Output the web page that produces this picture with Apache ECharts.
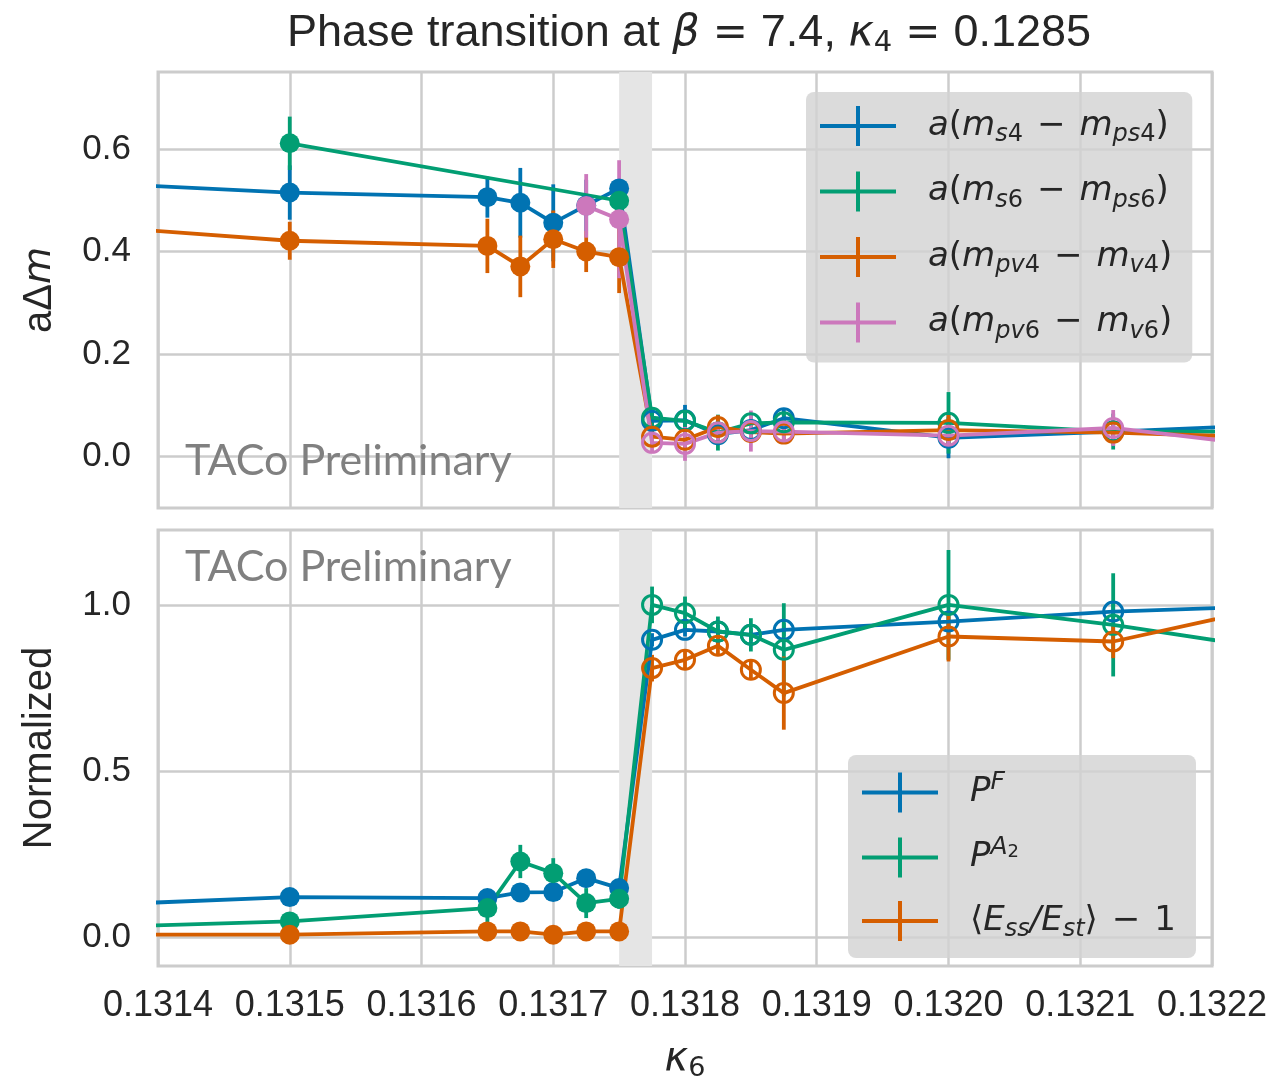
<!DOCTYPE html>
<html>
<head>
<meta charset="utf-8">
<script src="https://cdn.jsdelivr.net/npm/echarts@6/dist/echarts.min.js"></script>
<style>
  html, body { margin: 0; padding: 0; background: #fff; }
  #chart { width: 1276px; height: 1077px; }
</style>
</head>
<body>
<div id="chart"></div>
<script>
// kappa_6 values (points outside 0.1314..0.1322 only feed the clipped line ends)
var kappaAll   = [0.1313, 0.1315, 0.13165, 0.131675, 0.1317, 0.131725, 0.13175, 0.131775, 0.1318, 0.131825, 0.13185, 0.131875, 0.132, 0.132125, 0.13225];
var kappaGreen = [0.1315, 0.13175, 0.131775, 0.1318, 0.131825, 0.13185, 0.131875, 0.132, 0.132125, 0.13225];
var kappaPink  = [0.131725, 0.13175, 0.131775, 0.1318, 0.131825, 0.13185, 0.131875, 0.132, 0.132125, 0.13225];
var lastFilled = 0.13175;   // filled markers up to here, open markers after
var band = [0.13175, 0.131775];

// top panel: a*Delta m
var ms4 = [0.540, 0.515, 0.506, 0.495, 0.456, 0.490, 0.523, 0.070, 0.071, 0.044, 0.052, 0.075, 0.037, 0.049, 0.062];
var ms4Err = [0.05, 0.053, 0.04, 0.068, 0.075, 0.05, 0.015, 0.02, 0.03, 0.02, 0.02, 0.02, 0.04, 0.02, 0.02];
var ms6 = [0.611, 0.499, 0.076, 0.070, 0.047, 0.065, 0.067, 0.066, 0.049, 0.049];
var ms6Err = [0.052, 0.012, 0.015, 0.02, 0.035, 0.02, 0.02, 0.06, 0.035, 0.02];
var mpv4 = [0.459, 0.421, 0.411, 0.371, 0.424, 0.400, 0.389, 0.039, 0.033, 0.058, 0.048, 0.045, 0.052, 0.047, 0.037];
var mpv4Err = [0.04, 0.037, 0.053, 0.06, 0.056, 0.04, 0.07, 0.015, 0.02, 0.023, 0.02, 0.02, 0.03, 0.02, 0.02];
var mpv6 = [0.489, 0.463, 0.027, 0.025, 0.047, 0.050, 0.049, 0.041, 0.056, 0.019];
var mpv6Err = [0.062, 0.115, 0.02, 0.033, 0.02, 0.04, 0.02, 0.02, 0.035, 0.02];

// bottom panel: normalized
var pF = [0.090, 0.122, 0.119, 0.136, 0.137, 0.179, 0.149, 0.895, 0.925, 0.920, 0.910, 0.925, 0.950, 0.980, 0.997];
var pFErr = [0.01, 0.01, 0.01, 0.01, 0.01, 0.01, 0.015, 0.02, 0.02, 0.02, 0.02, 0.02, 0.02, 0.03, 0.02];
var pA2 = [0.025, 0.049, 0.089, 0.229, 0.194, 0.104, 0.117, 1.000, 0.975, 0.920, 0.910, 0.865, 1.000, 0.940, 0.865];
var pA2Err = [0.02, 0.02, 0.045, 0.05, 0.045, 0.045, 0.03, 0.055, 0.05, 0.045, 0.05, 0.14, 0.165, 0.155, 0.05];
var eRatio = [0.009, 0.009, 0.019, 0.019, 0.009, 0.019, 0.019, 0.810, 0.835, 0.877, 0.805, 0.735, 0.905, 0.890, 0.998];
var eRatioErr = [0.005, 0.005, 0.005, 0.005, 0.005, 0.005, 0.005, 0.04, 0.03, 0.03, 0.03, 0.11, 0.075, 0.05, 0.03];

var xTicks = [0.1314, 0.1315, 0.1316, 0.1317, 0.1318, 0.1319, 0.1320, 0.1321, 0.1322];
var yTicksTop = [0.0, 0.2, 0.4, 0.6];
var yTicksBottom = [0.0, 0.5, 1.0];

var blue = '#0173b2', green = '#029e73', orange = '#d55e00', pink = '#cc78bc';
var txt = '#262626';

var chart = echarts.init(document.getElementById('chart'));

function renderErr(params, api) {
  var p1 = api.coord([api.value(0), api.value(1)]);
  var p2 = api.coord([api.value(0), api.value(2)]);
  return {
    type: 'line',
    shape: { x1: p1[0], y1: p1[1], x2: p2[0], y2: p2[1] },
    style: { stroke: api.visual('color'), lineWidth: 3.8 }
  };
}

function makeSeries(name, xs, ys, es, color, gi, withBand) {
  var pts = xs.map(function (x, i) {
    var open = x > lastFilled + 1e-9;
    return {
      value: [x, ys[i]],
      symbolSize: open ? 19 : 20,
      itemStyle: open ? { color: 'rgba(0,0,0,0)', borderColor: color, borderWidth: 3 }
                      : { color: color, borderWidth: 0 }
    };
  });
  var bars = xs.map(function (x, i) { return [x, ys[i] - es[i], ys[i] + es[i]]; });
  var line = {
    type: 'line', name: name, xAxisIndex: gi, yAxisIndex: gi,
    data: pts, symbol: 'circle', showAllSymbol: true,
    lineStyle: { width: 3.8, color: color },
    itemStyle: { color: color, borderWidth: 0 },
    animation: false
  };
  if (withBand) {
    line.markArea = {
      silent: true,
      itemStyle: { color: '#e5e5e5' },
      data: [[{ xAxis: band[0] }, { xAxis: band[1] }]]
    };
  }
  return [
    { type: 'custom', name: name + ' err', xAxisIndex: gi, yAxisIndex: gi, data: bars,
      renderItem: renderErr, itemStyle: { color: color }, encode: { x: 0, y: [1, 2] },
      clip: true, silent: true, animation: false },
    line
  ];
}

var series = [].concat(
  makeSeries('ms4', kappaAll, ms4, ms4Err, blue, 0, true),
  makeSeries('ms6', kappaGreen, ms6, ms6Err, green, 0, false),
  makeSeries('mpv4', kappaAll, mpv4, mpv4Err, orange, 0, false),
  makeSeries('mpv6', kappaPink, mpv6, mpv6Err, pink, 0, false),
  makeSeries('PF', kappaAll, pF, pFErr, blue, 1, true),
  makeSeries('PA2', kappaAll, pA2, pA2Err, green, 1, false),
  makeSeries('Eratio', kappaAll, eRatio, eRatioErr, orange, 1, false)
);

var mathRich = {
  g:   { width: 27, lineHeight: 40 },
  w:   { width: 14, lineHeight: 40 },
  it:  { fontFamily: 'DejaVu Sans', fontStyle: 'italic', fontSize: 34, color: txt, lineHeight: 40 },
  up:  { fontFamily: 'DejaVu Sans', fontSize: 34, color: txt, lineHeight: 40 },
  sb:  { fontFamily: 'DejaVu Sans', fontStyle: 'italic', fontSize: 24, color: txt, lineHeight: 40, padding: [18, 0, 0, 0] },
  sbn: { fontFamily: 'DejaVu Sans', fontSize: 24, color: txt, lineHeight: 40, padding: [18, 0, 0, 0] },
  sp:  { fontFamily: 'DejaVu Sans', fontStyle: 'italic', fontSize: 25, color: txt, lineHeight: 40, padding: [0, 0, 20, 0] },
  sps: { fontFamily: 'DejaVu Sans', fontSize: 18, color: txt, lineHeight: 40, padding: [0, 0, 10, 0] }
};
var legendText = {
  ms4: '{it|a}{up|(}{it|m}{sb|s}{sbn|4}{w|}{up|−}{w|}{it|m}{sb|ps}{sbn|4}{up|)}',
  ms6: '{it|a}{up|(}{it|m}{sb|s}{sbn|6}{w|}{up|−}{w|}{it|m}{sb|ps}{sbn|6}{up|)}',
  mpv4: '{it|a}{up|(}{it|m}{sb|pv}{sbn|4}{w|}{up|−}{w|}{it|m}{sb|v}{sbn|4}{up|)}',
  mpv6: '{it|a}{up|(}{it|m}{sb|pv}{sbn|6}{w|}{up|−}{w|}{it|m}{sb|v}{sbn|6}{up|)}',
  PF: '{it|P}{sp|F}',
  PA2: '{it|P}{sp|A}{sps|2}',
  Eratio: '{up|⟨}{it|E}{sb|ss}{it|/E}{sb|st}{up|⟩}{w|}{up|−}{w|}{up|1}'
};
var crossIcon = 'path://M0,18L76,18L76,22L0,22ZM36,0L40,0L40,40L36,40Z';

function legendBase() {
  return {
    orient: 'vertical', itemWidth: 76, itemHeight: 40, icon: crossIcon,
    backgroundColor: 'rgba(210,210,210,0.8)', borderRadius: 8,
    selectedMode: false, itemStyle: { borderWidth: 0 },
    formatter: function (n) { return '{g|}' + legendText[n]; },
    textStyle: { fontFamily: 'DejaVu Sans', fontSize: 34, color: txt, lineHeight: 40, rich: mathRich }
  };
}
var legendTop = Object.assign(legendBase(), {
  left: 806, top: 92, padding: [13, 20, 19, 14], itemGap: 23.5,
  data: ['ms4', 'ms6', 'mpv4', 'mpv6']
});
var legendBottom = Object.assign(legendBase(), {
  left: 848, top: 755, padding: [15, 20, 16, 14], itemGap: 20,
  data: ['PF', 'PA2', 'Eratio']
});

function xAxisDef(gi, showLabels) {
  return {
    type: 'value', gridIndex: gi, min: 0.1314, max: 0.1322, interval: 0.0001,
    axisLine: { show: false }, axisTick: { show: false },
    splitLine: { show: true, lineStyle: { color: '#cccccc', width: 2.5 } },
    axisLabel: {
      show: showLabels, margin: 22, fontFamily: 'Liberation Sans', fontSize: 36, color: txt,
      customValues: xTicks,
      formatter: function (v) { return v.toFixed(4); }
    },
    name: showLabels ? '{k|κ}{s|6}' : '', nameLocation: 'middle', nameGap: 71,
    nameTextStyle: {
      rich: {
        k: { fontFamily: 'DejaVu Sans', fontStyle: 'italic', fontSize: 40, color: txt, lineHeight: 46 },
        s: { fontFamily: 'DejaVu Sans', fontSize: 27, color: txt, lineHeight: 46, padding: [18, 0, 0, 0] }
      }
    }
  };
}
function yAxisDef(gi, min, max, ticks, name) {
  return {
    type: 'value', gridIndex: gi, min: min, max: max,
    axisLine: { show: false },
    axisTick: { show: false, customValues: ticks },
    splitLine: { show: true, lineStyle: { color: '#cccccc', width: 2.5 } },
    axisLabel: {
      margin: 27, fontFamily: 'Liberation Sans', fontSize: 35, color: txt,
      customValues: ticks,
      formatter: function (v) { return v.toFixed(1); }
    },
    name: name, nameLocation: 'middle', nameRotate: 90, nameGap: 98,
    nameTextStyle: {
      fontFamily: 'Liberation Sans', fontSize: 40, color: txt,
      rich: {
        up: { fontFamily: 'Liberation Sans', fontSize: 40, color: txt },
        it: { fontFamily: 'DejaVu Sans', fontStyle: 'italic', fontSize: 38, color: txt }
      }
    }
  };
}

var gridBase = { left: 158, width: 1054, height: 436, show: true, borderColor: '#cccccc', borderWidth: 3,
                 backgroundColor: '#fff', containLabel: false, outerBoundsMode: 'none' };

chart.setOption({
  backgroundColor: '#ffffff',
  animation: false,
  title: {
    text: 'Phase transition at {i|β}{w|}{e|=}{w|}7.4, {i|κ}{s|4}{w|}{e|=}{w|}0.1285',
    left: 684, top: 3, textAlign: 'center',
    textStyle: {
      fontFamily: 'Liberation Sans', fontSize: 45, fontWeight: 'normal', color: txt,
      rich: {
        i: { fontFamily: 'DejaVu Sans', fontStyle: 'italic', fontSize: 43, color: txt, lineHeight: 52 },
        s: { fontFamily: 'DejaVu Sans', fontSize: 29, color: txt, lineHeight: 52, padding: [18, 0, 0, 0] },
        e: { fontFamily: 'DejaVu Sans', fontSize: 42, color: txt, lineHeight: 52 },
        w: { width: 13, lineHeight: 52 }
      }
    }
  },
  grid: [
    Object.assign({ top: 72 }, gridBase),
    Object.assign({ top: 530 }, gridBase)
  ],
  xAxis: [xAxisDef(0, false), xAxisDef(1, true)],
  yAxis: [
    yAxisDef(0, -0.1, 0.75, yTicksTop, '{up|aΔ}{it|m}'),
    yAxisDef(1, -0.085, 1.225, yTicksBottom, 'Normalized')
  ],
  legend: [legendTop, legendBottom],
  graphic: [
    { type: 'text', left: 185, top: 440, z: 100, style: { text: 'TACo Preliminary', font: '43px Lato', fill: '#808080' } },
    { type: 'text', left: 185, top: 546, z: 100, style: { text: 'TACo Preliminary', font: '43px Lato', fill: '#808080' } }
  ],
  series: series
});
</script>
</body>
</html>
